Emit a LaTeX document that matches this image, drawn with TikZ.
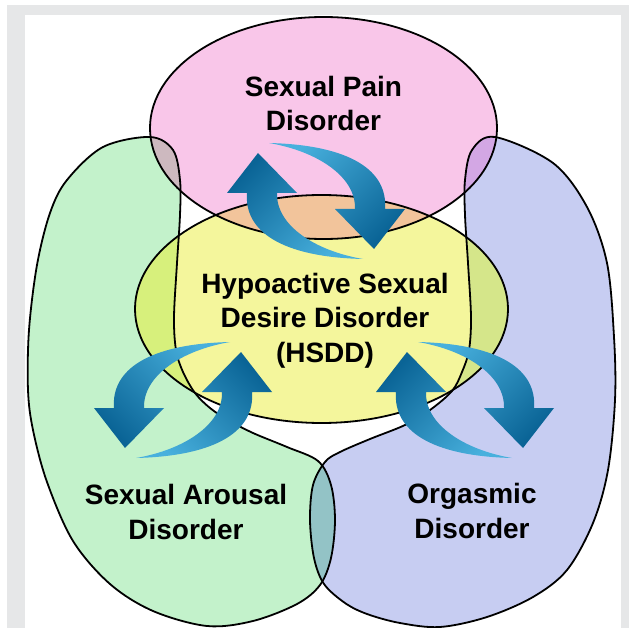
\documentclass[tikz,border=0pt]{standalone}
\usepackage{fontspec}
\setmainfont{Liberation Sans}
\definecolor{pinkc}{HTML}{F9C6E9}
\definecolor{yelc}{HTML}{F4F69C}
\definecolor{grnc}{HTML}{C3F2CB}
\definecolor{bluc}{HTML}{C7CDF2}
\definecolor{orac}{HTML}{F2C49B}
\definecolor{pgc}{HTML}{CDB9BF}
\definecolor{pbc}{HTML}{D3A7E4}
\definecolor{ygc}{HTML}{D7F07C}
\definecolor{ybc}{HTML}{D5E68A}
\definecolor{gbc}{HTML}{93C3C6}
\definecolor{framec}{HTML}{E6E7E8}
\definecolor{arrdark}{HTML}{0A6496}
\definecolor{arrlight}{HTML}{48B0DD}
\begin{document}
\begin{tikzpicture}[x=1pt,y=-1pt,
  outline/.style={draw=black,line width=1.8pt},
  lbl/.style={font=\bfseries\fontsize{28}{34.5}\selectfont,align=center,inner sep=0pt,anchor=base},
  arrow shade/.style={top color=arrdark,bottom color=arrlight,shading angle=#1,draw=none},
]
\def\pinkpath{(323.5,128) ellipse [x radius=173.5pt, y radius=111pt]}
\def\yelpath{(321.5,309) ellipse [x radius=186.5pt, y radius=114pt]}
\def\grnpath{plot[smooth cycle,tension=0.55] coordinates {(150,137) (173,150) (180,180) (180,215) (177,263) (174,317) (176,350) (183,372) (195,393) (210,408) (228,420) (253,433) (287,447) (318,461) (331,485) (335,520) (331,558) (320,585) (297,604) (253,621) (207,626) (153,611) (110,584) (73,541) (47,482) (33,430) (28,390) (29,330) (37,265) (50,213) (67,180) (103,147)}}
\def\blupath{plot[smooth cycle,tension=0.55] coordinates {(495,137) (472,150) (465,180) (465,215) (468,263) (471,317) (469,350) (462,372) (452,391) (430,410) (405,425) (370,439) (340,452) (325,462) (313,485) (310,520) (314,558) (324,584) (345,603) (367,614) (400,623) (440,627) (487,617) (533,597) (567,570) (593,523) (608,470) (615,400) (614,337) (607,263) (587,207) (553,163)}}
\useasboundingbox (0,0) rectangle (629,628);
% frame
\fill[framec] (7,5) rectangle (629,628);
\fill[white] (25,15) rectangle (621,628);
% base fills
\fill[grnc] \grnpath;
\fill[bluc] \blupath;
\fill[yelc] \yelpath;
\fill[pinkc] \pinkpath;
% overlaps
\begin{scope}\clip \pinkpath; \fill[orac] \yelpath; \end{scope}
\begin{scope}\clip \pinkpath; \fill[pgc] \grnpath; \end{scope}
\begin{scope}\clip \pinkpath; \fill[pbc] \blupath; \end{scope}
\begin{scope}\clip \yelpath; \fill[ygc] \grnpath; \end{scope}
\begin{scope}\clip \yelpath; \fill[ybc] \blupath; \end{scope}
\begin{scope}\clip \grnpath; \fill[gbc] \blupath; \end{scope}
% outlines
\draw[outline] \grnpath;
\draw[outline] \blupath;
\draw[outline] \yelpath;
\draw[outline] \pinkpath;
% arrows: top pair
\shade[arrow shade=45] (363,259) .. controls (316,251) and (276,226) .. (277,193) -- (297,193) -- (258,153) -- (227,193) -- (247,193) .. controls (244,231) and (281,257) .. cycle;
\shade[arrow shade=225] (269,143) .. controls (316,151) and (356,176) .. (355,209) -- (335,209) -- (374,249) -- (405,209) -- (385,209) .. controls (388,171) and (351,145) .. cycle;
% right pair
\shade[arrow shade=45] (512,458) .. controls (465,450) and (425,425) .. (426,392) -- (446,392) -- (407,352) -- (376,392) -- (396,392) .. controls (393,430) and (430,456) .. cycle;
\shade[arrow shade=225] (418,342) .. controls (465,350) and (505,375) .. (504,408) -- (484,408) -- (523,448) -- (554,408) -- (534,408) .. controls (537,370) and (500,344) .. cycle;
% left pair
\shade[arrow shade=-45] (136,458) .. controls (183,450) and (223,425) .. (222,392) -- (202,392) -- (241,352) -- (272,392) -- (252,392) .. controls (255,430) and (218,456) .. cycle;
\shade[arrow shade=135] (230,342) .. controls (183,350) and (143,375) .. (144,408) -- (164,408) -- (125,448) -- (94,408) -- (114,408) .. controls (111,370) and (148,344) .. cycle;
% labels (anchor = baseline of the last line)
\node[lbl] (pain) at (323.5,131) {Sexual Pain\\Disorder};
\node[lbl] (hsdd) at (325,362) {Hypoactive Sexual\\Desire Disorder\\(HSDD)};
\node[lbl] (arousal) at (186,539) {Sexual Arousal\\Disorder};
\node[lbl] (orgasm) at (472,538) {Orgasmic\\Disorder};
\end{tikzpicture}
\end{document}
